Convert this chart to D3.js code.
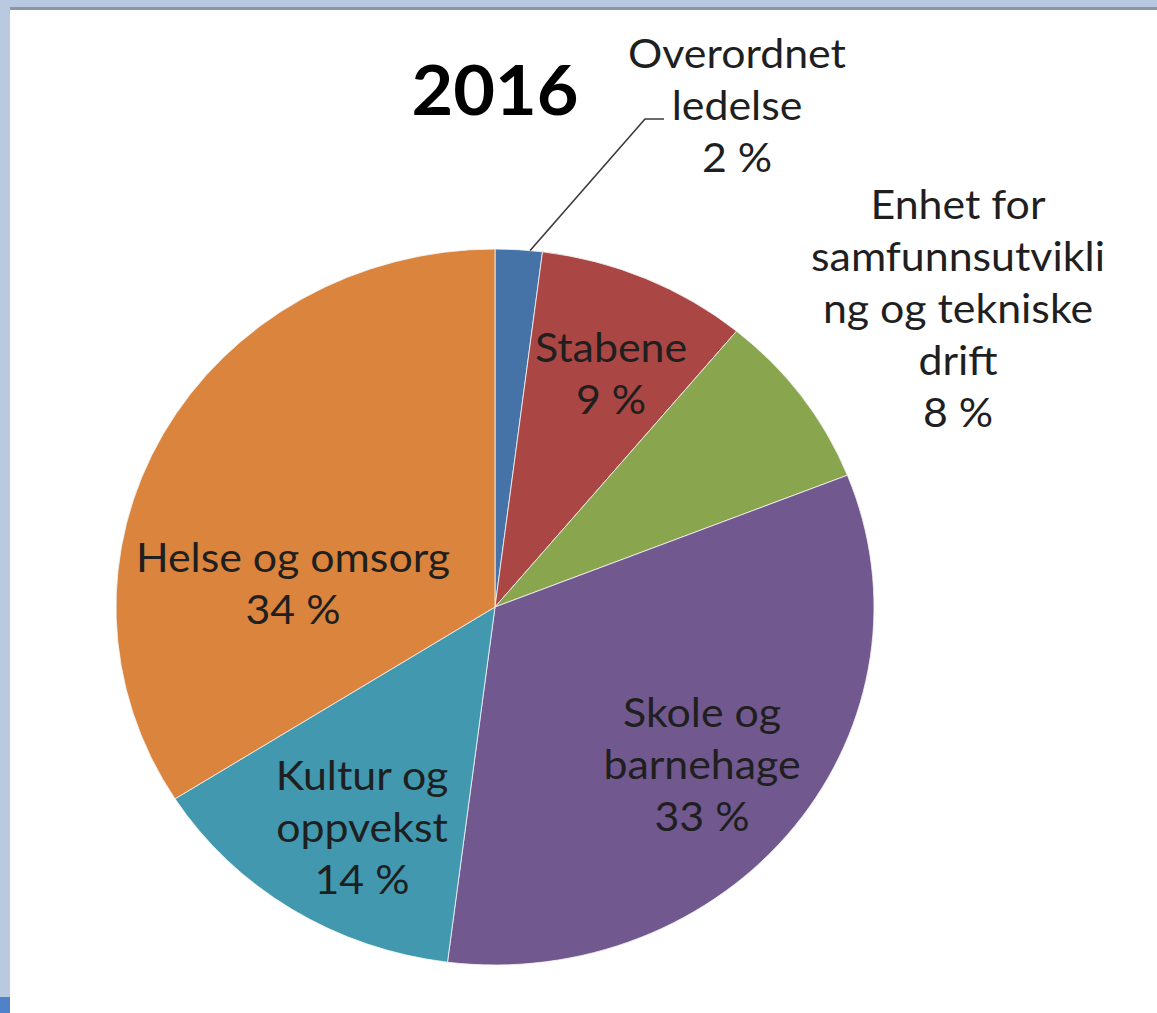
<!DOCTYPE html>
<html>
<head>
<meta charset="utf-8">
<script src="https://cdn.jsdelivr.net/npm/d3@7"></script>
<style>
  body { margin: 0; background: #fff; }
  svg { display: block; }
  text { font-family: Lato, 'Open Sans', sans-serif; fill: #1f1f1f; }
</style>
</head>
<body>
<div class="pie-chart"></div>
<script>
// data
const title = '2016';
const categories = ['Overordnet ledelse', 'Stabene', 'Enhet for samfunnsutvikling og tekniske drift',
    'Skole og barnehage', 'Kultur og oppvekst', 'Helse og omsorg'];
const values = [2, 9, 8, 33, 14, 34];
const labelLines = [
    ['Overordnet', 'ledelse'],
    ['Stabene'],
    ['Enhet for', 'samfunnsutvikli', 'ng og tekniske', 'drift'],
    ['Skole og', 'barnehage'],
    ['Kultur og', 'oppvekst'],
    ['Helse og omsorg']
];
const colors = ['#4572a7', '#aa4643', '#89a54e', '#71588f', '#4198af', '#db843d'];

// label placement (center x, first baseline), set by hand like the original
const labelPos = [
    [737, 68], [611, 362], [958, 219], [702, 727], [362, 790], [293, 572]
];

const width = 1157, height = 1013;
const cx = 495, cy = 607, r = 358, sx = 379 / 358;
const lineH = 52;

const svg = d3.select('.pie-chart')
    .append('svg')
    .attr('width', width)
    .attr('height', height);

// window frame bits
svg.append('rect').attr('x', 0).attr('y', 0).attr('width', width).attr('height', 7).attr('fill', '#b8c9e0');
svg.append('rect').attr('x', 0).attr('y', 7).attr('width', width).attr('height', 3).attr('fill', '#8a96a3');
svg.append('rect').attr('x', 0).attr('y', 0).attr('width', 10).attr('height', height).attr('fill', '#b9c9df');
svg.append('rect').attr('x', 0).attr('y', 997).attr('width', 10).attr('height', 16).attr('fill', '#4f82c9');

const dataset = categories.map((c, i) => ({ name: c, value: values[i], lines: labelLines[i] }));

const pie = d3.pie().sort(null).value(d => d.value);
const arcs = pie(dataset);
const arc = d3.arc().innerRadius(0).outerRadius(r);

const g = svg.append('g')
    .attr('transform', `translate(${cx},${cy}) scale(${sx},1)`);

g.selectAll('path')
    .data(arcs)
    .enter()
    .append('path')
    .attr('d', arc)
    .attr('fill', (d, i) => colors[i])
    .attr('stroke', '#f4f4f4')
    .attr('stroke-width', 0.8);

// leader line for the small slice
const a0 = arcs[0];
const mid = (a0.startAngle + a0.endAngle) / 2 + 0.03;
const px = cx + Math.sin(mid) * r * sx;
const py = cy - Math.cos(mid) * r;
const elbowY = labelPos[0][1] + lineH - 1;
svg.append('polyline')
    .attr('points', `${px},${py} ${645},${elbowY} ${664},${elbowY}`)
    .attr('fill', 'none')
    .attr('stroke', '#3a3a3a')
    .attr('stroke-width', 1.6);

// labels (stretched a little, like the source image)
arcs.forEach((d, i) => {
    const lines = d.data.lines.concat([d.data.value + ' %']);
    const t = svg.append('g')
        .attr('transform', `translate(${labelPos[i][0]},${labelPos[i][1]}) scale(${sx},1)`)
        .append('text')
        .attr('text-anchor', 'middle')
        .style('font-size', '40.5px');
    lines.forEach((l, k) => {
        t.append('tspan')
            .attr('x', 0)
            .attr('dy', k === 0 ? 0 : lineH)
            .text(l);
    });
});

svg.append('g')
    .attr('transform', `translate(495,115) scale(${sx},1)`)
    .append('text')
    .attr('text-anchor', 'middle')
    .style('font-size', '68px')
    .style('font-weight', 'bold')
    .style('fill', '#000')
    .text(title);
</script>
</body>
</html>
